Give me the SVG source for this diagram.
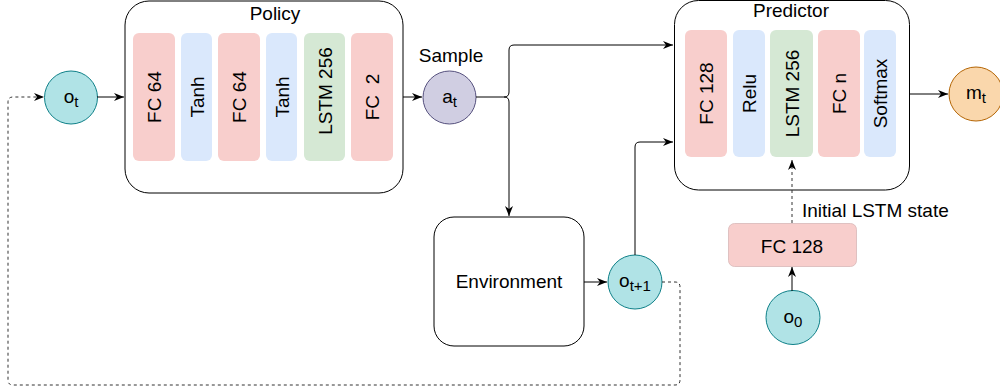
<svg xmlns="http://www.w3.org/2000/svg" width="1000" height="391" viewBox="0 0 1000 391">
<defs>
<style>
text{font-family:"Liberation Sans",Arial,Helvetica,sans-serif;font-size:19px;fill:#000}
.box{fill:#fff;stroke:#000;stroke-width:1}
.red{fill:#f8cecc}
.blue{fill:#dae8fc}
.green{fill:#d5e8d4}
.teal{fill:#b0e3e6;stroke:#0e8088;stroke-width:1}
.purple{fill:#d0cee2;stroke:#56517e;stroke-width:1}
.orange{fill:#fad7ac;stroke:#b46504;stroke-width:1}
.edge{fill:none;stroke:#000;stroke-width:1}
.dash{fill:none;stroke:#333;stroke-width:1;stroke-dasharray:3 3}
.sub{font-size:15px}
</style>
<marker id="arr" viewBox="0 0 10 8" refX="10" refY="4" markerWidth="10" markerHeight="8" markerUnits="userSpaceOnUse" orient="auto">
<path d="M0,0 L10,4 L0,8 L3,4 z" fill="#000"/>
</marker>
</defs>

<g id="policy">
<rect class="box" x="125" y="1" width="278" height="192" rx="24"/>
<text x="275" y="19.5" text-anchor="middle">Policy</text>
</g>
<g id="policy-fc64-1">
<rect class="red" x="133" y="33" width="42" height="128" rx="6"/>
<text transform="rotate(-90 154 97)" x="154" y="104" text-anchor="middle">FC 64</text>
</g>
<g id="policy-tanh-1">
<rect class="blue" x="181" y="33" width="31" height="128" rx="6"/>
<text transform="rotate(-90 196.5 97)" x="196.5" y="104" text-anchor="middle">Tanh</text>
</g>
<g id="policy-fc64-2">
<rect class="red" x="218" y="33" width="42" height="128" rx="6"/>
<text transform="rotate(-90 239 97)" x="239" y="104" text-anchor="middle">FC 64</text>
</g>
<g id="policy-tanh-2">
<rect class="blue" x="266" y="33" width="31" height="128" rx="6"/>
<text transform="rotate(-90 281.5 97)" x="281.5" y="104" text-anchor="middle">Tanh</text>
</g>
<g id="policy-lstm">
<rect class="green" x="304" y="33" width="41" height="128" rx="6"/>
<text transform="rotate(-90 324.5 91)" x="324.5" y="98" text-anchor="middle">LSTM 256</text>
</g>
<g id="policy-fc2">
<rect class="red" x="351" y="33" width="42" height="128" rx="6"/>
<text transform="rotate(-90 372 97)" x="372" y="104" text-anchor="middle" xml:space="preserve">FC  2</text>
</g>

<g id="ot">
<circle class="teal" cx="71" cy="97.5" r="26.5"/>
<text x="71" y="103" text-anchor="middle">o<tspan class="sub" dy="4">t</tspan></text>
</g>

<g id="at">
<text x="451" y="62" text-anchor="middle">Sample</text>
<circle class="purple" cx="449.5" cy="97.5" r="26.5"/>
<text x="449.5" y="103" text-anchor="middle">a<tspan class="sub" dy="4">t</tspan></text>
</g>

<g id="environment">
<rect class="box" x="434" y="217" width="150" height="129" rx="20"/>
<text x="509" y="288" text-anchor="middle">Environment</text>
</g>

<g id="ot1">
<circle class="teal" cx="635" cy="282" r="27"/>
<text x="635" y="287" text-anchor="middle">o<tspan class="sub" dy="4">t+1</tspan></text>
</g>

<g id="predictor">
<rect class="box" x="674.5" y="0.5" width="235" height="189.5" rx="24"/>
<text x="791" y="16.5" text-anchor="middle">Predictor</text>
</g>
<g id="pred-fc128">
<rect class="red" x="685" y="30" width="42" height="127" rx="6"/>
<text transform="rotate(-90 706 93.5)" x="706" y="100.5" text-anchor="middle">FC 128</text>
</g>
<g id="pred-relu">
<rect class="blue" x="733" y="30" width="32" height="127" rx="6"/>
<text transform="rotate(-90 749 93.5)" x="749" y="100.5" text-anchor="middle">Relu</text>
</g>
<g id="pred-lstm">
<rect class="green" x="770" y="30" width="43" height="127" rx="6"/>
<text transform="rotate(-90 791.5 93.5)" x="791.5" y="100.5" text-anchor="middle">LSTM 256</text>
</g>
<g id="pred-fcn">
<rect class="red" x="818" y="30" width="42" height="127" rx="6"/>
<text transform="rotate(-90 839 93.5)" x="839" y="100.5" text-anchor="middle">FC n</text>
</g>
<g id="pred-softmax">
<rect class="blue" x="864" y="30" width="32" height="127" rx="6"/>
<text transform="rotate(-90 880 93.5)" x="880" y="100.5" text-anchor="middle">Softmax</text>
</g>

<g id="mt">
<circle class="orange" cx="976" cy="94" r="27"/>
<text x="976" y="99" text-anchor="middle">m<tspan class="sub" dy="4">t</tspan></text>
</g>

<g id="init-fc128">
<text x="802" y="216.5">Initial LSTM state</text>
<rect class="red" x="728.5" y="223.5" width="128" height="43" rx="6" stroke="#d8b8b8" stroke-width="0.8"/>
<text x="792" y="252.5" text-anchor="middle">FC 128</text>
</g>

<g id="o0">
<circle class="teal" cx="793" cy="317.5" r="27"/>
<text x="793" y="323" text-anchor="middle">o<tspan class="sub" dy="4">0</tspan></text>
</g>

<g id="connectors">
<path class="edge" d="M97,97 L124,97" marker-end="url(#arr)"/>
<path class="edge" d="M403,97 L422,97" marker-end="url(#arr)"/>
<path class="edge" d="M476,97 L504,97 Q509,97 509,92 L509,50 Q509,45 514,45 L673,45" marker-end="url(#arr)"/>
<path class="edge" d="M504,97 Q509,97 509,102 L509,216" marker-end="url(#arr)"/>
<path class="edge" d="M584,282 L607,282" marker-end="url(#arr)"/>
<path class="edge" d="M635,255 L635,147 Q635,142 640,142 L673,142" marker-end="url(#arr)"/>
<path class="edge" d="M909,94 L948,94" marker-end="url(#arr)"/>
<path class="dash" d="M792,223 L792,160" marker-end="url(#arr)"/>
<path class="edge" d="M792,291 L792,267" marker-end="url(#arr)"/>
<path class="dash" d="M662,282 L675,282 Q680,282 680,287 L680,380 Q680,385 675,385 L13,385 Q8,385 8,380 L8,102 Q8,97 13,97 L44,97" marker-end="url(#arr)"/>
</g>
</svg>
